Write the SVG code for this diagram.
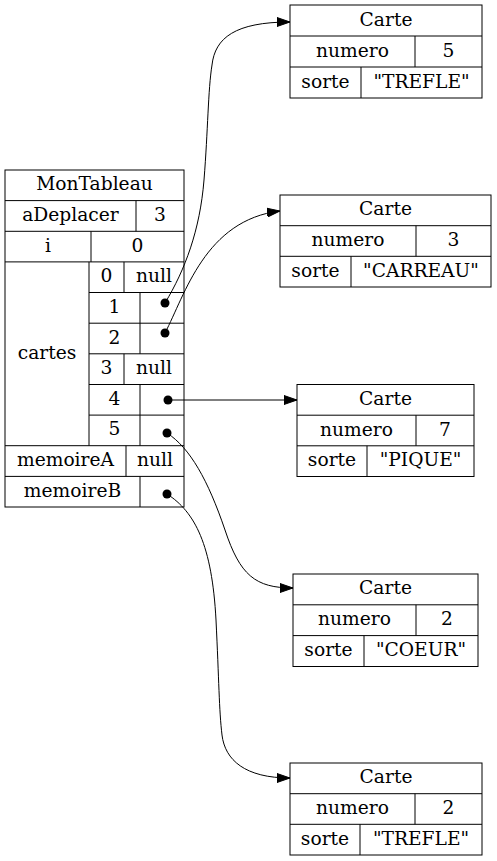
<svg xmlns="http://www.w3.org/2000/svg" width="497" height="861" viewBox="0 0 497 861">
<style>
.b{fill:#fff;stroke:#000;stroke-width:1}
.l{stroke:#000;stroke-width:1;fill:none}
text{font-family:"DejaVu Serif","Liberation Serif",serif;font-size:18.67px;text-anchor:middle;fill:#000}
.e{stroke:#000;stroke-width:1;fill:none;marker-end:url(#ah)}
.d{fill:#000}
</style>
<defs>
<marker id="ah" markerWidth="13" markerHeight="10" refX="13" refY="5" orient="auto" markerUnits="userSpaceOnUse">
<path d="M0,0.5 L13,5 L0,9.5 Z" fill="#000" stroke="#000" stroke-width="1"/>
</marker>
</defs>
<rect width="497" height="861" fill="#fff"/>
<g id="MonTableau">
<rect class="b" x="5" y="170" width="179" height="337"/>
<path class="l" d="M5,200.6H184 M5,231.3H184 M5,261.9H184 M89,292.5H184 M89,323.2H184 M89,353.8H184 M89,384.5H184 M89,415.1H184 M5,445.7H184 M5,476.4H184"/>
<path class="l" d="M136,200.6V231.3 M91,231.3V261.9 M89,261.9V445.7 M124,261.9V292.5 M140,292.5V353.8 M124,353.8V384.5 M140,384.5V445.7 M126,445.7V476.4 M140,476.4V507"/>
<text x="94.5" y="190.3">MonTableau</text>
<text x="70.5" y="221">aDeplacer</text>
<text x="160" y="221">3</text>
<text x="48" y="251.6">i</text>
<text x="137.5" y="251.6">0</text>
<text x="47" y="358.8">cartes</text>
<text x="106.5" y="282.2">0</text>
<text x="154" y="282.2">null</text>
<text x="114.5" y="312.8">1</text>
<text x="114.5" y="343.5">2</text>
<text x="106.5" y="374.2">3</text>
<text x="154" y="374.2">null</text>
<text x="114.5" y="404.8">4</text>
<text x="114.5" y="435.4">5</text>
<text x="65.5" y="466">memoireA</text>
<text x="155" y="466">null</text>
<text x="72.5" y="496.7">memoireB</text>
</g>
<g id="carte1">
<rect class="b" x="290" y="5" width="192" height="93"/>
<path class="l" d="M290,36H482 M290,67H482 M415,36V67 M361,67V98"/>
<text x="386" y="25.5">Carte</text>
<text x="352.5" y="56.5">numero</text>
<text x="448.5" y="56.5">5</text>
<text x="325.5" y="87.5">sorte</text>
<text x="421.5" y="87.5">"TREFLE"</text>
</g>
<g id="carte2">
<rect class="b" x="280" y="195" width="211" height="92"/>
<path class="l" d="M280,225.7H491 M280,256.3H491 M416,225.7V256.3 M351,256.3V287"/>
<text x="385.5" y="215.3">Carte</text>
<text x="348" y="246">numero</text>
<text x="453.5" y="246">3</text>
<text x="315.5" y="276.7">sorte</text>
<text x="421" y="276.7">"CARREAU"</text>
</g>
<g id="carte3">
<rect class="b" x="297" y="384.5" width="177" height="92"/>
<path class="l" d="M297,415.2H474 M297,445.8H474 M416,415.2V445.8 M367,445.8V476.5"/>
<text x="385.5" y="404.8">Carte</text>
<text x="356.5" y="435.5">numero</text>
<text x="445" y="435.5">7</text>
<text x="332" y="466.2">sorte</text>
<text x="420.5" y="466.2">"PIQUE"</text>
</g>
<g id="carte4">
<rect class="b" x="293" y="574" width="185" height="92.5"/>
<path class="l" d="M293,604.8H478 M293,635.6H478 M416,604.8V635.6 M364,635.6V666.5"/>
<text x="385.5" y="594.4">Carte</text>
<text x="354.5" y="625.2">numero</text>
<text x="447" y="625.2">2</text>
<text x="328.5" y="656">sorte</text>
<text x="421" y="656">"COEUR"</text>
</g>
<g id="carte5">
<rect class="b" x="290" y="763" width="192" height="92"/>
<path class="l" d="M290,793.7H482 M290,824.3H482 M415,793.7V824.3 M360,824.3V855"/>
<text x="386" y="783.3">Carte</text>
<text x="352.5" y="814">numero</text>
<text x="448.5" y="814">2</text>
<text x="325" y="844.7">sorte</text>
<text x="421" y="844.7">"TREFLE"</text>
</g>
<g id="connectors">
<path class="e" d="M165,303 C185,270 200,230 204,180 C208,130 208,90 212,65 C215,38 235,22 290,22"/>
<path class="e" d="M165,333 C185,295 205,220 280,211"/>
<path class="e" d="M168,400 L297,400"/>
<path class="e" d="M167,433 C190,448 208,480 225,530 C240,575 255,588 293,588"/>
<path class="e" d="M167,494 C195,512 212,545 216,620 C219,680 219,710 222,735 C225,760 245,778 290,778"/>
<circle class="d" cx="165" cy="303" r="4.5"/>
<circle class="d" cx="165" cy="333" r="4.5"/>
<circle class="d" cx="168" cy="400" r="4.5"/>
<circle class="d" cx="167" cy="433" r="4.5"/>
<circle class="d" cx="167" cy="494" r="4.5"/>
</g>
</svg>
